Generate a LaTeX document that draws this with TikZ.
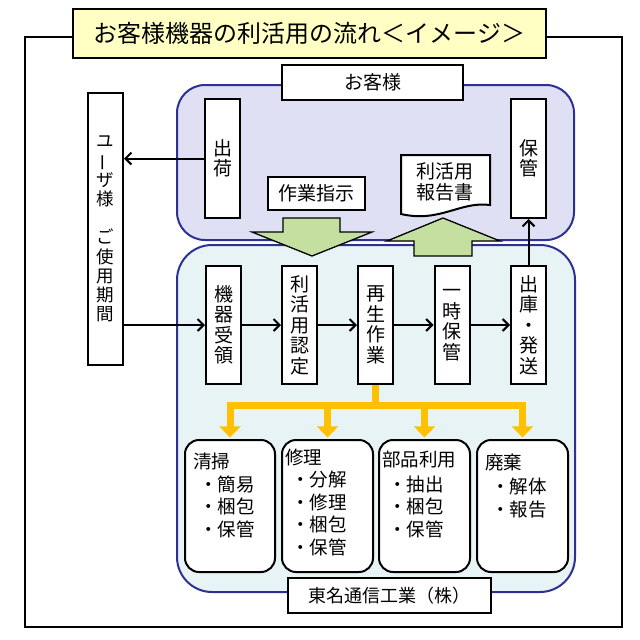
\documentclass[tikz,border=0pt]{standalone}
\usepackage{fontspec}
\usepackage{graphicx}
\setmainfont{Noto Sans CJK JP}
\usetikzlibrary{arrows.meta}
\definecolor{navy}{HTML}{2E3192}
\definecolor{upfill}{HTML}{E0E0F4}
\definecolor{lowfill}{HTML}{E8F3F6}
\definecolor{titlefill}{HTML}{FFFFC4}
\definecolor{greenfill}{HTML}{C4DFA0}
\definecolor{gold}{HTML}{FFC000}
\begin{document}
\begin{tikzpicture}[x=1pt,y=-1pt,
  region/.style={draw=navy, line width=2pt},
  wbox/.style={draw, line width=2pt, fill=white, inner sep=0pt, align=center},
  vbox/.style={wbox, minimum width=35pt, font=\fontsize{19}{20.5}\selectfont},
  lbox/.style={draw, line width=2pt, fill=white, rounded corners=14pt, minimum width=90pt, minimum height=132pt, inner sep=0pt},
  ltxt/.style={anchor=base west, inner sep=0pt, font=\fontsize{18.5}{22}\selectfont},
  garrow/.style={draw=black, line width=1.3pt, fill=greenfill, line join=miter},
  arr/.style={draw=black, line width=2pt, -{Straight Barb[length=6pt,width=12pt]}},
  ybus/.style={draw=gold, line width=7pt, -{Triangle[width=0pt 3, length=0pt 1.6]}, shorten >=1.5pt}
]
\useasboundingbox (0,0) rectangle (640,640);
\fill[white] (0,0) rectangle (640,640);
% outer frame
\draw[line width=2.2pt] (25,37) rectangle (622,627);
% title
\node[wbox, line width=2.2pt, fill=titlefill, minimum width=473pt, minimum height=49pt, font=\fontsize{24}{28}\selectfont] (title) at (309.5,33.5) {お客様機器の利活用の流れ＜イメージ＞};
% regions
\node[region, fill=upfill, rounded corners=28pt, minimum width=397pt, minimum height=155pt, inner sep=0pt] (upper) at (375.5,162.5) {};
\node[region, fill=lowfill, rounded corners=35pt, minimum width=398pt, minimum height=347pt, inner sep=0pt] (lower) at (376,418.5) {};
% customer label
\node[wbox, minimum width=181pt, minimum height=35pt, font=\fontsize{19}{22}\selectfont] (kyaku) at (372.5,82.5) {お客様};
% user box
\node[vbox, minimum height=272pt, font=\fontsize{17.5}{19.2}\selectfont] (user) at (105.5,229) {ユ\\\rotatebox[origin=c]{90}{ー}\\ザ\\様\\　\\ご\\使\\用\\期\\間};
% upper boxes
\node[vbox, minimum height=119pt] (shukka) at (222.5,158.5) {出\\荷};
\node[vbox, minimum height=119pt] (hokan) at (528.5,158.5) {保\\管};
\node[wbox, minimum width=97pt, minimum height=33pt, font=\fontsize{19}{22}\selectfont] (shiji) at (316.5,193.5) {作業指示};
% report document
\draw[line width=2pt, fill=white] (401,155) -- (490,155) -- (490,205) .. controls (460,201) and (440,223) .. (401,214) -- cycle;
\node[align=center, inner sep=0pt, font=\fontsize{19}{20.5}\selectfont] (report) at (445,182) {利活用\\報告書};
% green arrows
\draw[garrow] (283,218) -- (340,218) -- (340,232) -- (372,232) -- (312,256) -- (252,232) -- (283,232) -- cycle;
\draw[garrow] (414,256) -- (414,241) -- (387,241) -- (443,218) -- (500,241) -- (472,241) -- (472,256) -- cycle;
% lower row
\node[vbox, minimum height=118pt] (juryo) at (223.5,325) {機\\器\\受\\領};
\node[vbox, minimum height=118pt] (nintei) at (299.5,325) {利\\活\\用\\認\\定};
\node[vbox, minimum height=118pt] (saisei) at (375.5,325) {再\\生\\作\\業};
\node[vbox, minimum height=118pt] (ichiji) at (452,325) {一\\時\\保\\管};
\node[vbox, minimum height=118pt] (shukko) at (528.5,325) {出\\庫\\・\\発\\送};
% black arrows
\draw[arr] (shukka.west) -- (shukka.west -| user.east);
\draw[arr] (user.east |- juryo.west) -- (juryo.west);
\draw[arr] (juryo) -- (nintei);
\draw[arr] (nintei) -- (saisei);
\draw[arr] (saisei) -- (ichiji);
\draw[arr] (ichiji) -- (shukko);
\draw[arr] (shukko.north) -- (hokan.south);
% bottom boxes
\node[lbox] (seiso) at (230,506) {};
\node[lbox, minimum width=91pt] (shuri) at (327.5,506) {};
\node[lbox, minimum width=91pt] (buhin) at (424.5,506) {};
\node[lbox, minimum width=91pt] (haiki) at (522.5,506) {};
% yellow bus
\coordinate (bus) at (375.5,405);
\draw[ybus] (saisei.south) -- (bus) -| (seiso.north);
\draw[ybus] (saisei.south) -- (bus) -| (shuri.north);
\draw[ybus] (saisei.south) -- (bus) -| (buhin.north);
\draw[ybus] (saisei.south) -- (bus) -| (haiki.north);
% list texts
\foreach \txt/\xx/\yy [count=\i] in {清掃/193/462, ・簡易/199/485, ・梱包/199/507, ・保管/199/530, 修理/285/458, ・分解/291/480, ・修理/291/503, ・梱包/291/525, ・保管/291/548, 部品利用/382/460, ・抽出/388/485, ・梱包/388/507, ・保管/388/530, 廃棄/485/463, ・解体/491/487, ・報告/491/510}
  \node[ltxt] (L\i) at (\xx,\yy+6.5) {\txt};
% company label
\node[wbox, minimum width=203pt, minimum height=35pt, font=\fontsize{18}{22}\selectfont] (tomei) at (389.5,595.5) {東名通信工業（株）};
\end{tikzpicture}
\end{document}
